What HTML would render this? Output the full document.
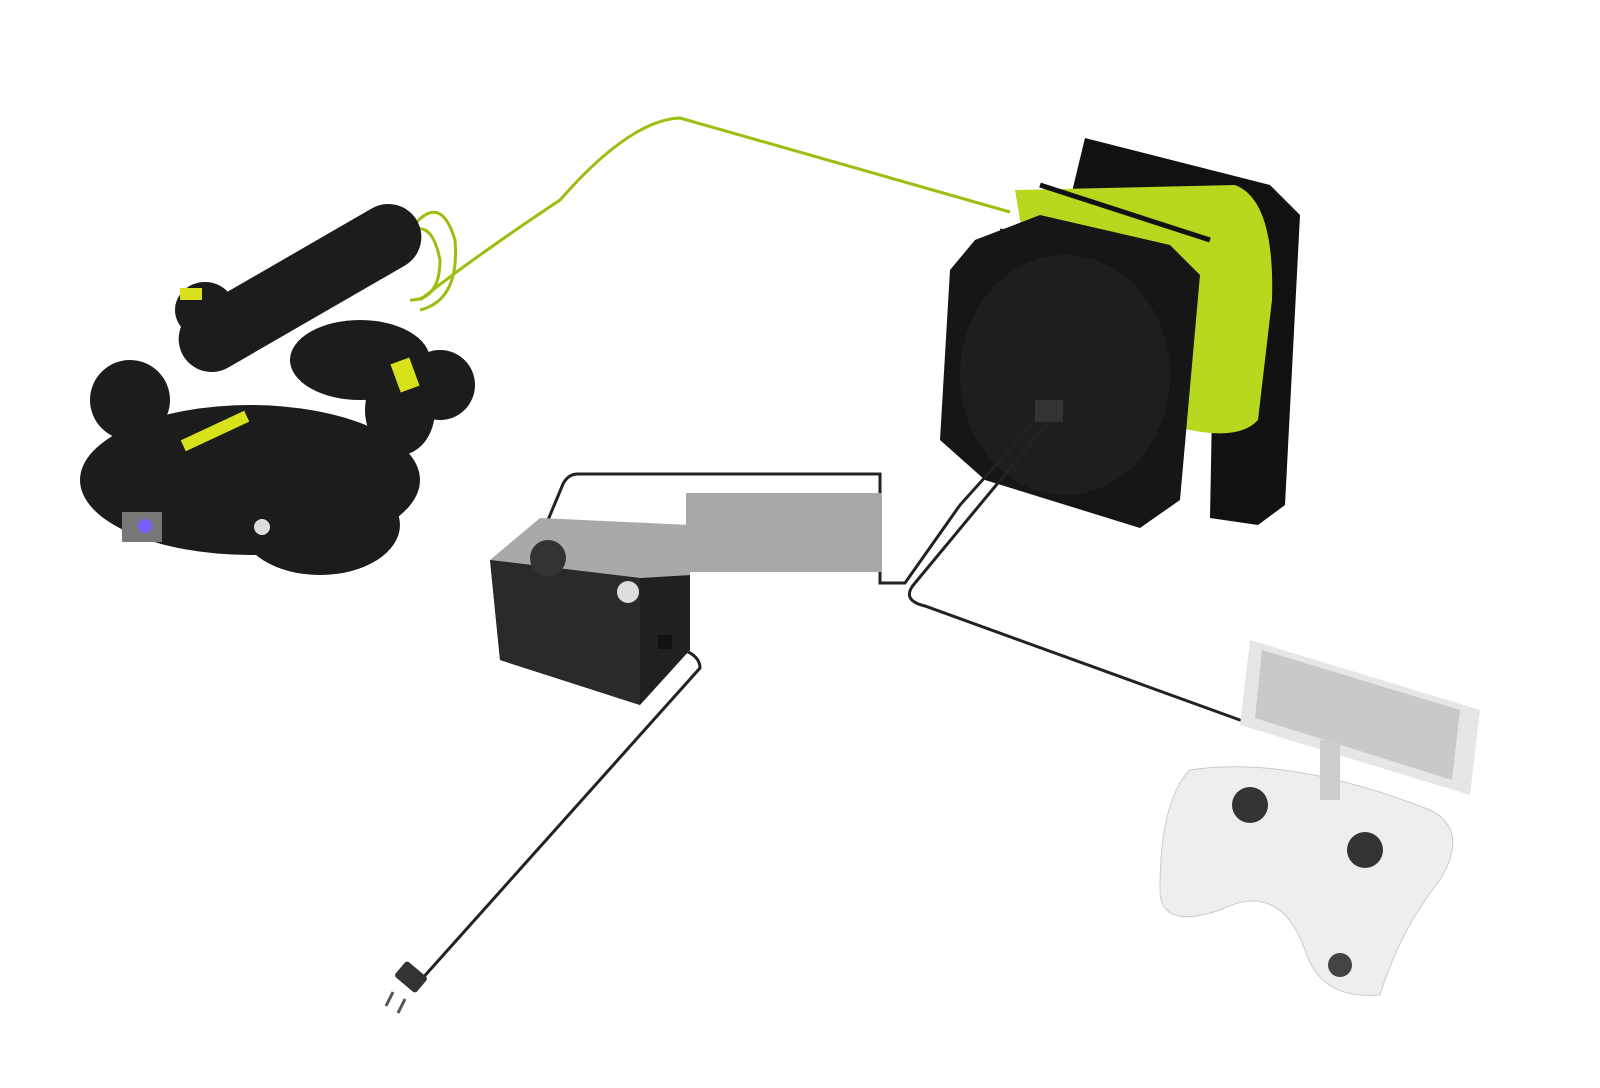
<!DOCTYPE html>
<html><head><style>html,body{margin:0;padding:0;background:#fff;width:1600px;height:1088px;overflow:hidden}</style></head>
<body>
<svg width="1600" height="1088" viewBox="0 0 1600 1088" xmlns="http://www.w3.org/2000/svg">
<rect width="1600" height="1088" fill="#fff"/>
<!-- green tether -->
<path d="M420 300 Q470 260 560 200 Q630 120 680 118 L1010 212" fill="none" stroke="#9bbf10" stroke-width="3"/>
<path d="M410 230 Q440 190 455 240 Q460 300 420 310" fill="none" stroke="#9bbf10" stroke-width="3"/>
<path d="M400 240 Q430 210 440 260 Q440 300 410 300" fill="none" stroke="#9bbf10" stroke-width="3"/>
<!-- reel back frame -->
<polygon points="1085,138 1270,185 1300,215 1285,505 1258,525 1210,518 1215,250 1070,200" fill="#111"/>
<path d="M1015 190 L1235 185 Q1275 200 1272 300 L1258 420 Q1240 440 1190 430 L1050 400 Z" fill="#b6d81e"/>
<line x1="1040" y1="185" x2="1210" y2="240" stroke="#111" stroke-width="5"/>
<line x1="1000" y1="230" x2="1060" y2="240" stroke="#222" stroke-width="3"/>
<!-- reel front -->
<polygon points="975,240 1040,215 1170,245 1200,275 1180,500 1140,528 985,480 940,440 950,270" fill="#161616"/>
<ellipse cx="1065" cy="375" rx="105" ry="120" fill="#1e1e1e"/>
<rect x="1035" y="400" width="28" height="22" fill="#333"/>
<!-- black cables -->
<path d="M1032 425 L960 505 L905 583 L880 583 L880 474 L578 474 Q568 474 563 484 L548 520" fill="none" stroke="#222" stroke-width="3"/>
<path d="M1046 425 L915 583 Q900 600 925 606 L1262 728" fill="none" stroke="#222" stroke-width="3"/>
<path d="M662 645 Q700 650 700 668 L412 990" fill="none" stroke="#222" stroke-width="3"/>
<!-- plug -->
<rect x="397" y="967" width="28" height="20" rx="3" transform="rotate(40 411 977)" fill="#333"/>
<line x1="393" y1="992" x2="386" y2="1006" stroke="#555" stroke-width="3"/>
<line x1="405" y1="999" x2="398" y2="1013" stroke="#555" stroke-width="3"/>
<!-- drone -->
<g fill="#1c1c1c">
<ellipse cx="250" cy="480" rx="170" ry="75"/>
<ellipse cx="130" cy="400" rx="40" ry="40"/>
<ellipse cx="440" cy="385" rx="35" ry="35"/>
<ellipse cx="320" cy="525" rx="80" ry="50"/>
<ellipse cx="205" cy="310" rx="30" ry="28"/>
<rect x="165" y="255" width="270" height="66" rx="33" transform="rotate(-30 300 288)"/>
<ellipse cx="360" cy="360" rx="70" ry="40"/>
<ellipse cx="400" cy="410" rx="35" ry="45"/>
<ellipse cx="310" cy="460" rx="30" ry="40"/>
</g>
<rect x="180" y="425" width="70" height="12" fill="#d8e21a" transform="rotate(-25 215 431)"/>
<rect x="395" y="360" width="20" height="30" fill="#d8e21a" transform="rotate(-20 405 375)"/>
<rect x="180" y="288" width="22" height="12" fill="#d8e21a"/>
<rect x="122" y="512" width="40" height="30" fill="#777"/>
<circle cx="145" cy="526" r="7" fill="#7a5cff"/>
<circle cx="262" cy="527" r="8" fill="#ddd"/>
<!-- grey rect -->
<rect x="686" y="493" width="196" height="79" fill="#a8a8a8"/>
<!-- power box -->
<polygon points="490,560 540,518 690,525 690,575 640,578" fill="#a9a9a9"/>
<polygon points="490,560 640,578 690,575 690,650 640,705 500,660" fill="#202020"/>
<polygon points="490,560 640,578 640,705 500,660" fill="#2a2a2a"/>
<circle cx="548" cy="558" r="18" fill="#333"/>
<circle cx="628" cy="592" r="11" fill="#ddd"/>
<rect x="658" y="635" width="14" height="14" fill="#111"/>
<!-- controller -->
<polygon points="1250,640 1480,710 1470,795 1240,725" fill="#e6e6e6"/>
<polygon points="1262,650 1460,710 1452,780 1255,718" fill="#c9c9c9"/>
<path d="M1190 770 Q1290 755 1430 810 Q1470 830 1440 880 Q1400 930 1380 995 Q1320 1000 1305 950 Q1280 880 1220 910 Q1160 930 1160 890 Q1160 800 1190 770 Z" fill="#eeeeee" stroke="#ccc"/>
<circle cx="1250" cy="805" r="18" fill="#333"/>
<circle cx="1365" cy="850" r="18" fill="#333"/>
<rect x="1320" y="740" width="20" height="60" fill="#ccc"/>
<circle cx="1340" cy="965" r="12" fill="#444"/>
</svg>
</body></html>
